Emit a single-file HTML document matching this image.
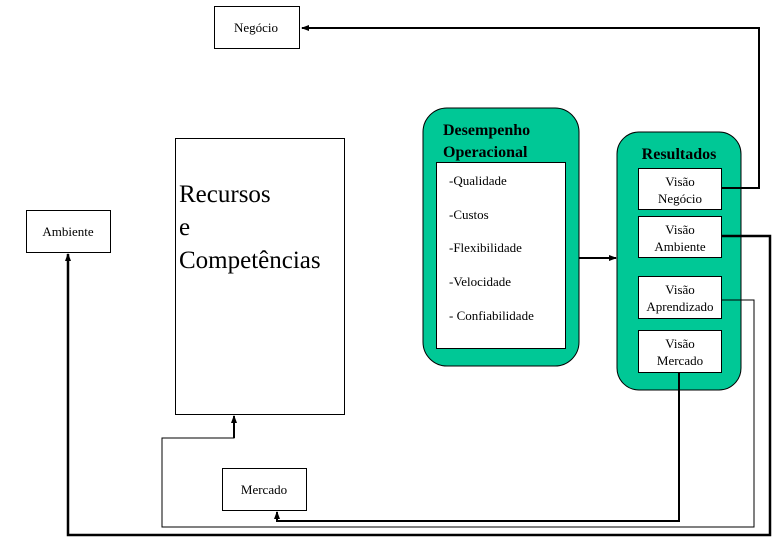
<!DOCTYPE html>
<html><head><meta charset="utf-8"><style>
html,body{margin:0;padding:0;background:#fff;}
svg text{font-family:"Liberation Serif",serif;fill:#000;}
</style></head><body>
<svg width="780" height="540" viewBox="0 0 780 540" xmlns="http://www.w3.org/2000/svg">
<defs>
<marker id="a" markerWidth="8" markerHeight="8" refX="7" refY="4" orient="auto" markerUnits="userSpaceOnUse">
<path d="M0,1 L8,4 L0,7 Z" fill="#000"/></marker>
</defs>
<g fill="#fff" stroke="#000" stroke-width="1">
<rect x="214.5" y="6.5" width="85" height="42"/>
<rect x="26.5" y="210.5" width="84" height="42"/>
<rect x="175.5" y="138.5" width="169" height="276"/>
<rect x="222.5" y="468.5" width="84" height="42"/>
</g>
<rect x="423" y="108" width="156" height="258" rx="24" fill="#00c896" stroke="#000"/>
<rect x="436.5" y="162.5" width="129" height="186" fill="#fff" stroke="#000"/>
<rect x="617" y="132" width="124" height="258" rx="22" fill="#00c896" stroke="#000"/>
<g fill="#fff" stroke="#000">
<rect x="638.5" y="168.5" width="83" height="41"/>
<rect x="638.5" y="216.5" width="83" height="41"/>
<rect x="638.5" y="276.5" width="83" height="42"/>
<rect x="638.5" y="330.5" width="83" height="42"/>
</g>
<g fill="none" stroke="#000">
<polyline points="721,188 759,188 759,28 302,28" stroke-width="2" marker-end="url(#a)"/>
<polyline points="721,236 770,236 770,535 68,535 68,254" stroke-width="2.5" marker-end="url(#a)"/>
<polyline points="721,300 754,300 754,527 162,527 162,438 234,438 234,416" stroke-width="1" />
<line x1="234" y1="438" x2="234" y2="416" stroke-width="2" marker-end="url(#a)"/>
<polyline points="679,372 679,521 277,521 277,512" stroke-width="2" marker-end="url(#a)"/>
<line x1="579" y1="258" x2="616" y2="258" stroke-width="2" marker-end="url(#a)"/>
</g>
<text x="256" y="32" font-size="13" text-anchor="middle">Negócio</text>
<text x="68" y="236" font-size="13" text-anchor="middle">Ambiente</text>
<text x="264" y="494" font-size="13" text-anchor="middle">Mercado</text>
<text x="179" y="202" font-size="25">Recursos</text>
<text x="179" y="235" font-size="25"> e</text>
<text x="179" y="268" font-size="25">Competências</text>
<text x="443" y="135" font-size="16" font-weight="bold">Desempenho</text>
<text x="443" y="157" font-size="16" font-weight="bold">Operacional</text>
<g font-size="13">
<text x="449" y="185">-Qualidade</text>
<text x="449" y="219">-Custos</text>
<text x="449" y="252">-Flexibilidade</text>
<text x="449" y="286">-Velocidade</text>
<text x="449" y="320">- Confiabilidade</text>
</g>
<text x="679" y="159" font-size="16" font-weight="bold" text-anchor="middle">Resultados</text>
<g font-size="13" text-anchor="middle">
<text x="680" y="186">Visão</text><text x="680" y="203">Negócio</text>
<text x="680" y="234">Visão</text><text x="680" y="251">Ambiente</text>
<text x="680" y="294">Visão</text><text x="680" y="311">Aprendizado</text>
<text x="680" y="348">Visão</text><text x="680" y="365">Mercado</text>
</g>
</svg>
</body></html>
